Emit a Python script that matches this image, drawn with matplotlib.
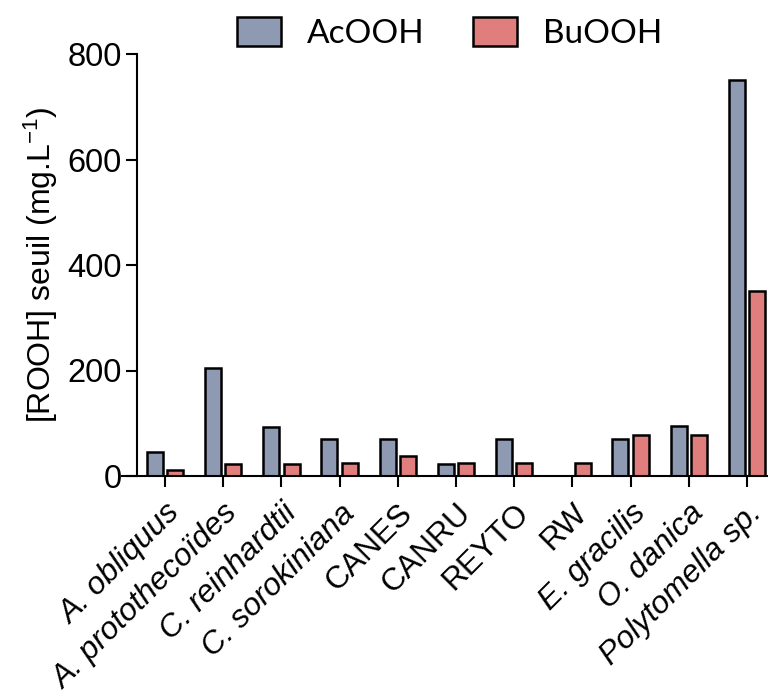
import matplotlib.pyplot as plt
import numpy as np

plt.rcParams['font.family'] = ['Liberation Sans', 'DejaVu Sans']
plt.rcParams['mathtext.default'] = 'regular'

# data
species = ['A. obliquus', 'A. protothecoïdes', 'C. reinhardtii', 'C. sorokiniana',
           'CANES', 'CANRU', 'REYTO', 'RW', 'E. gracilis', 'O. danica',
           'Polytomella sp.']
italic = [True, True, True, True, False, False, False, False, True, True, True]
acooh = [46, 205, 93, 70, 70, 23, 70, 0, 70, 95, 750]
buooh = [11, 23, 23, 25, 38, 25, 25, 25, 78, 78, 351]

AC_COL = '#8E9AB1'
BU_COL = '#E07E7E'

fig = plt.figure(figsize=(7.68, 6.95), dpi=100)
ax = fig.add_axes([122 / 768, 1 - 476 / 695, 646 / 768, 422 / 695])

x = np.arange(len(species))
w = 0.275
off = 0.176
ax.bar(x - off, acooh, w, color=AC_COL, edgecolor='black', linewidth=1.8, label='AcOOH')
ax.bar(x + off, buooh, w, color=BU_COL, edgecolor='black', linewidth=1.8, label='BuOOH')

ax.set_xlim(-0.739, 10.36)
ax.set_ylim(0, 800)
ax.set_yticks([0, 200, 400, 600, 800])

for s in ['top', 'right']:
    ax.spines[s].set_visible(False)
ax.spines['left'].set_position(('data', -0.473))
ax.spines['left'].set_linewidth(1.5)
ax.spines['bottom'].set_linewidth(1.5)
ax.tick_params(axis='both', width=1.5, length=8, labelsize=23.5)
ax.tick_params(axis='x', pad=8, labelsize=22.8)

ax.set_xticks(x)
ax.set_xticklabels(species, rotation=45, ha='right', va='top', rotation_mode='anchor')
for lab, it in zip(ax.get_xticklabels(), italic):
    if it:
        lab.set_style('italic')

ax.set_ylabel(r'[ROOH] seuil (mg.L$^{-1}$)', fontsize=23, labelpad=5)

fig.legend(loc='center', bbox_to_anchor=(449.5 / 768, 1 - 33 / 695), ncol=2,
           frameon=False, prop={'family': 'Lato', 'size': 24},
           handlelength=1.32, handleheight=0.96, handletextpad=0.78,
           columnspacing=1.44, borderpad=0)

fig.savefig('out.png', dpi=100)
